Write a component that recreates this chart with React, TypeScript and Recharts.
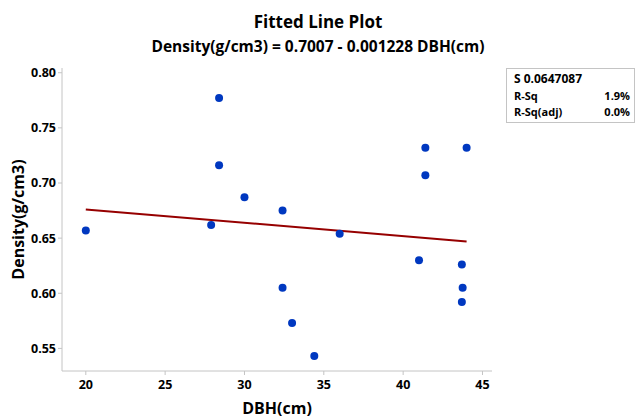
import { ComposedChart, Scatter, Line, XAxis, YAxis } from "recharts";

// DBH(cm) and Density(g/cm3)
const dbh = [20, 28.4, 28.4, 30, 27.9, 32.4, 32.4, 33, 36, 34.4, 41.4, 41.4, 41, 44, 43.7, 43.75, 43.7];
const density = [0.657, 0.777, 0.716, 0.687, 0.662, 0.675, 0.605, 0.573, 0.654, 0.543, 0.732, 0.707, 0.63, 0.732, 0.626, 0.605, 0.592];

// ends of the fitted line
const fitX = [20, 44];
const fitY = [0.676, 0.647];

const xTicks = [20, 25, 30, 35, 40, 45];
const yTicks = [0.55, 0.6, 0.65, 0.7, 0.75, 0.8];

const points = dbh.map((x, i) => ({ x, y: density[i] }));
const fit = fitX.map((x, i) => ({ x, fit: fitY[i] }));

const font = "'Open Sans', 'Noto Sans', sans-serif";
const frame = "#c4c4c4";
const tickStyle = { fill: "#000", fontSize: 12.5, fontWeight: 700, fontFamily: font };

const App = () => (
  <div
    style={{
      position: "absolute",
      left: 0,
      top: 0,
      width: 636,
      height: 419,
      background: "#fff",
      fontFamily: font,
      fontWeight: 700,
      color: "#000",
      overflow: "hidden",
    }}
  >
    <div style={{ position: "absolute", top: 10, width: 636, textAlign: "center", fontSize: 17 }}>
      Fitted Line Plot
    </div>
    <div style={{ position: "absolute", top: 35, width: 636, textAlign: "center", fontSize: 15.5 }}>
      Density(g/cm3) = 0.7007 - 0.001228 DBH(cm)
    </div>

    <div style={{ position: "absolute", left: 0, top: 0 }}>
      <ComposedChart
        width={636}
        height={419}
        data={fit}
        margin={{ top: 68, right: 144, bottom: 0, left: 0 }}
      >
        <XAxis
          type="number"
          dataKey="x"
          domain={[18.5, 45.6]}
          ticks={xTicks}
          allowDataOverflow
          height={48}
          stroke={frame}
          tickSize={4}
          tick={{ ...tickStyle, dy: 3 }}
          label={{
            value: "DBH(cm)",
            position: "insideBottom",
            offset: 5,
            style: { fill: "#000", fontSize: 16, fontWeight: 700, fontFamily: font },
          }}
        />
        <XAxis xAxisId="top" orientation="top" type="number" domain={[18.5, 45.6]} height={0} tick={false} tickLine={false} stroke={frame} />
        <YAxis
          type="number"
          domain={[0.5295, 0.8043]}
          ticks={yTicks}
          allowDataOverflow
          width={62}
          stroke={frame}
          tickSize={4}
          tickFormatter={(v: number) => v.toFixed(2)}
          tick={tickStyle}
          label={{
            value: "Density(g/cm3)",
            angle: -90,
            position: "insideLeft",
            offset: 18,
            style: { textAnchor: "middle", fill: "#000", fontSize: 16, fontWeight: 700, fontFamily: font },
          }}
        />
        <YAxis yAxisId="right" orientation="right" type="number" domain={[0.5295, 0.8043]} width={0} tick={false} tickLine={false} stroke={frame} />
        <Scatter
          data={points}
          dataKey="y"
          fill="#0038c0"
          isAnimationActive={false}
          shape={(p: any) => <circle cx={p.cx} cy={p.cy} r={4} fill="#0038c0" />}
        />
        <Line dataKey="fit" stroke="#960000" strokeWidth={2} dot={false} isAnimationActive={false} />
      </ComposedChart>
    </div>

    <div
      style={{
        position: "absolute",
        left: 506,
        top: 68,
        width: 129,
        height: 55,
        border: `1px solid ${frame}`,
        boxSizing: "border-box",
        fontSize: 12,
        lineHeight: "16.5px",
        padding: "2px 4px 0 7px",
      }}
    >
      <div>S 0.0647087</div>
      <div style={{ display: "flex", justifyContent: "space-between", fontSize: 11 }}>
        <span>R-Sq</span>
        <span>1.9%</span>
      </div>
      <div style={{ display: "flex", justifyContent: "space-between", fontSize: 11 }}>
        <span>R-Sq(adj)</span>
        <span>0.0%</span>
      </div>
    </div>
  </div>
);

export default App;
